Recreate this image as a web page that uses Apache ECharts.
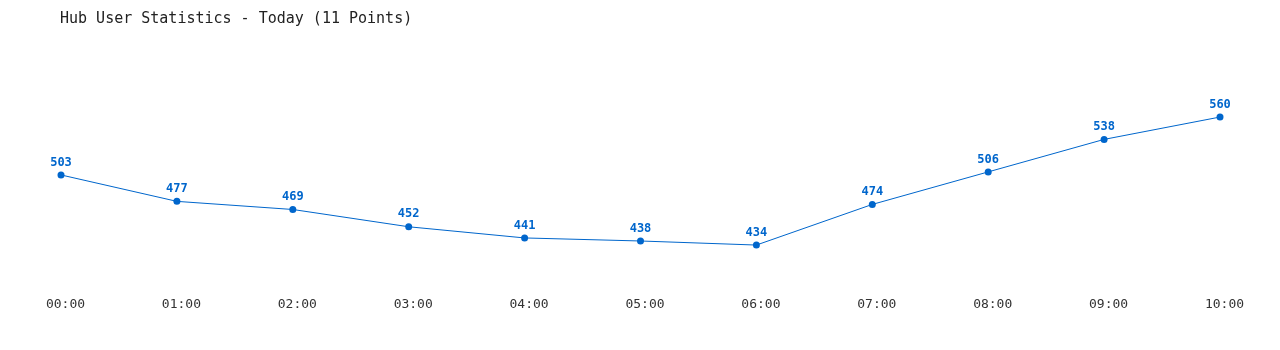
<!DOCTYPE html>
<html><head><meta charset="utf-8">
<script src="https://cdn.jsdelivr.net/npm/echarts@6/dist/echarts.min.js"></script>
<style>html,body{margin:0;padding:0;background:#fff}#c{width:1280px;height:350px}</style>
</head><body><div id="c"></div>
<script>
const categories = ["00:00","01:00","02:00","03:00","04:00","05:00","06:00","07:00","08:00","09:00","10:00"];
const users = [503,477,469,452,441,438,434,474,506,538,560];
const chartTitle = "Hub User Statistics - Today (11 Points)";
const chart = echarts.init(document.getElementById('c'), null, {renderer:'canvas'});
const mono = '"DejaVu Sans Mono", "Liberation Mono", monospace';
chart.setOption({
  animation:false,
  backgroundColor:'#fff',
  title:{text:chartTitle,left:55,top:7,textStyle:{fontFamily:mono,fontSize:15,fontWeight:'normal',color:'#222'}},
  grid:{left:61,right:60,top:25.6,bottom:70.4},
  xAxis:{type:'category',data:categories,boundaryGap:false,
    axisLine:{show:false},axisTick:{show:false},splitLine:{show:false},
    axisLabel:{margin:19,padding:[0,0,0,9],fontFamily:mono,fontSize:13,color:'#333'}},
  yAxis:{type:'value',min:400,max:650,show:false,splitLine:{show:false}},
  series:[{type:'line',data:users,symbol:'circle',symbolSize:7,
    lineStyle:{color:'#0066cc',width:1},itemStyle:{color:'#0066cc'},
    label:{show:true,position:'top',distance:3,fontFamily:mono,fontSize:12,fontWeight:'bold',color:'#0066cc'}}]
});
</script></body></html>
